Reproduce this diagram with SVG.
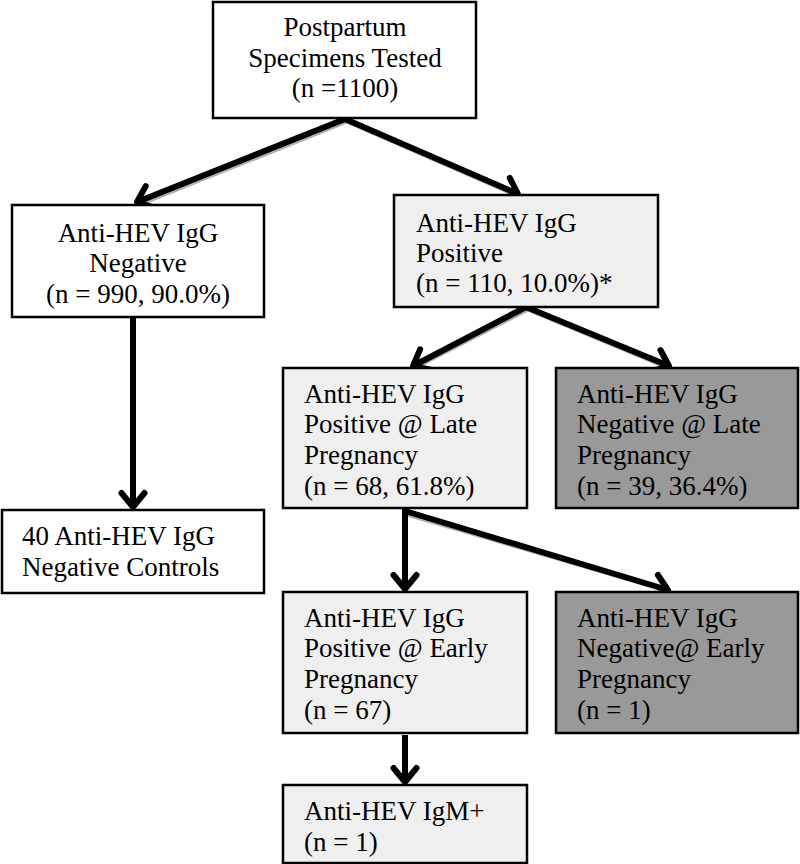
<svg xmlns="http://www.w3.org/2000/svg" width="800" height="864" viewBox="0 0 800 864">
<defs>
<style>
.box{stroke:#000;stroke-width:2.5}
.w{fill:#fff}
.l{fill:#efefef}
.d{fill:#999}
text{font-family:"Liberation Serif","DejaVu Serif","Times New Roman",serif;font-size:27px;fill:#000}
.c{text-anchor:middle}
.conn{stroke:#000;stroke-width:6;fill:none;marker-end:url(#arr)}
.sh{stroke:#b0b0b0;stroke-width:5;fill:none}
</style>
<marker id="arr" viewBox="0 0 30 30" refX="22" refY="15" markerWidth="30" markerHeight="30" markerUnits="userSpaceOnUse" orient="auto">
<path d="M8,3.5 L22,15 L8,26.5" fill="none" stroke="#000" stroke-width="6" stroke-linejoin="round" stroke-linecap="round"/>
</marker>
</defs>
<rect width="800" height="864" fill="#fff"/>
<g id="connectors">
<g transform="translate(2,2)">
<line class="sh" x1="345" y1="119" x2="140" y2="201"/>
<line class="sh" x1="345" y1="119" x2="515" y2="193"/>
<line class="sh" x1="526" y1="307" x2="415" y2="364"/>
<line class="sh" x1="526" y1="307" x2="665" y2="365"/>
<line class="sh" x1="405" y1="512" x2="665" y2="588"/>
</g>
<line class="conn" x1="345" y1="119" x2="137" y2="202"/>
<line class="conn" x1="345" y1="119" x2="518" y2="194"/>
<line class="conn" x1="133" y1="317" x2="133" y2="507"/>
<line class="conn" x1="526" y1="307" x2="413" y2="366"/>
<line class="conn" x1="526" y1="307" x2="669" y2="366"/>
<path class="conn" d="M405,509 L405,589"/>
<line class="conn" x1="405" y1="511" x2="668" y2="590"/>
<line class="conn" x1="405" y1="735" x2="405" y2="782"/>
</g>
<g id="n-top">
<rect class="box w" x="213" y="2" width="263" height="116"/>
<text class="c" x="345" y="36">Postpartum</text>
<text class="c" x="345" y="67">Specimens Tested</text>
<text class="c" x="345" y="97">(n =1100)</text>
</g>
<g id="n-neg">
<rect class="box w" x="12" y="205" width="252" height="112"/>
<text class="c" x="138" y="242">Anti-HEV IgG</text>
<text class="c" x="138" y="272">Negative</text>
<text class="c" x="138" y="303">(n = 990, 90.0%)</text>
</g>
<g id="n-pos">
<rect class="box l" x="394" y="195" width="264" height="112"/>
<text x="416" y="232">Anti-HEV IgG</text>
<text x="416" y="262">Positive</text>
<text x="416" y="292">(n = 110, 10.0%)*</text>
</g>
<g id="n-controls">
<rect class="box w" x="2" y="510" width="262" height="83"/>
<text x="22" y="545">40 Anti-HEV IgG</text>
<text x="22" y="576">Negative Controls</text>
</g>
<g id="n-latepos">
<rect class="box l" x="283" y="368" width="244" height="140"/>
<text x="304" y="403">Anti-HEV IgG</text>
<text x="304" y="433">Positive @ Late</text>
<text x="304" y="464">Pregnancy</text>
<text x="304" y="495">(n = 68, 61.8%)</text>
</g>
<g id="n-lateneg">
<rect class="box d" x="556" y="368" width="242" height="140"/>
<text x="577" y="403">Anti-HEV IgG</text>
<text x="577" y="433">Negative @ Late</text>
<text x="577" y="464">Pregnancy</text>
<text x="577" y="495">(n = 39, 36.4%)</text>
</g>
<g id="n-earlypos">
<rect class="box l" x="283" y="592" width="244" height="141"/>
<text x="304" y="627">Anti-HEV IgG</text>
<text x="304" y="657">Positive @ Early</text>
<text x="304" y="688">Pregnancy</text>
<text x="304" y="719">(n = 67)</text>
</g>
<g id="n-earlyneg">
<rect class="box d" x="556" y="592" width="242" height="141"/>
<text x="577" y="627">Anti-HEV IgG</text>
<text x="577" y="657">Negative@ Early</text>
<text x="577" y="688">Pregnancy</text>
<text x="577" y="719">(n = 1)</text>
</g>
<g id="n-igm">
<rect class="box l" x="283" y="785" width="244" height="78"/>
<text x="304" y="820">Anti-HEV IgM+</text>
<text x="304" y="851">(n = 1)</text>
</g>
</svg>
